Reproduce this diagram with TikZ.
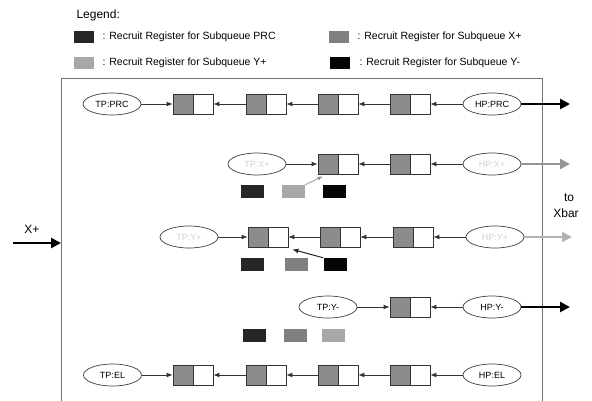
\documentclass[tikz,border=0pt]{standalone}
\usepackage{fontspec}
\setmainfont{Liberation Sans}
\usetikzlibrary{shapes.geometric,arrows.meta,calc}
\definecolor{regfill}{HTML}{8C8C8C}
\definecolor{cPRC}{HTML}{262626}
\definecolor{cXp}{HTML}{808080}
\definecolor{cYp}{HTML}{A8A8A8}
\definecolor{cYm}{HTML}{050505}
\begin{document}
\begin{tikzpicture}[x=1pt,y=-1pt,
  every node/.style={font=\fontsize{9}{11}\selectfont},
  regbox/.style={draw=black!80, line width=0.8pt, minimum width=40pt, minimum height=20pt, inner sep=0pt,
    path picture={\fill[regfill] (path picture bounding box.south west) rectangle (path picture bounding box.north);
      \draw[black!80, line width=0.8pt] (path picture bounding box.south) -- (path picture bounding box.north);}},
  ell/.style={ellipse, draw=black!75, line width=0.7pt, minimum width=58pt, minimum height=22pt, inner sep=0pt},
  faint/.style={text=black!18},
  lnk/.style={draw=black!80, line width=0.9pt, -{Latex[length=6pt,width=5pt]}},
  outarrow/.style={line width=2.8pt, -{Triangle[length=10pt,width=10pt]}},
  sq/.style={minimum width=23pt, minimum height=13pt, inner sep=0pt},
  lsq/.style={minimum width=20pt, minimum height=12pt, inner sep=0pt},
  legtext/.style={anchor=west, font=\fontsize{10.5}{12}\selectfont},
  big/.style={font=\fontsize{12}{14}\selectfont},
]
\useasboundingbox (0,0) rectangle (592,400);
\clip (0,0) rectangle (592,400);
\fill[white] (0,0) rectangle (592,400);

% Legend
\node[big, anchor=west] (leg) at (73,15) {Legend:};
\node[lsq, fill=cPRC] (l1) at (84,37) {};
\node[legtext] (t1) at (99,37) {: Recruit Register for Subqueue PRC};
\node[lsq, fill=cYp] (l2) at (84,63) {};
\node[legtext] (t2) at (99,63) {: Recruit Register for Subqueue Y+};
\node[lsq, fill=cXp] (l3) at (339,37) {};
\node[legtext] (t3) at (354,37) {: Recruit Register for Subqueue X+};
\node[lsq, fill=cYm] (l4) at (340,63) {};
\node[legtext] (t4) at (356,63) {: Recruit Register for Subqueue Y-};

% Outer box
\draw[black!55, line width=0.8pt] (61,78) rectangle (542,430);

% Row PRC
\node[ell] (tpprc) at (112,104) {TP:PRC};
\node[regbox] (p1) at (193,104) {};
\node[regbox] (p2) at (266,104) {};
\node[regbox] (p3) at (338,104) {};
\node[regbox] (p4) at (410,104) {};
\node[ell] (hpprc) at (492,104) {HP:PRC};
\draw[lnk] (tpprc) -- (p1);
\draw[lnk] (p2) -- (p1);
\draw[lnk] (p3) -- (p2);
\draw[lnk] (p4) -- (p3);
\draw[lnk] (hpprc) -- (p4);
\coordinate (oprc) at (570,104);
\draw[outarrow, black] (hpprc) -- (oprc);

% Row X+
\node[ell, faint] (tpxp) at (257,164) {TP:X+};
\node[regbox] (x1) at (338,164) {};
\node[regbox] (x2) at (410,164) {};
\node[ell, faint] (hpxp) at (492,164) {HP:X+};
\draw[lnk] (tpxp) -- (x1);
\draw[lnk] (x2) -- (x1);
\draw[lnk] (hpxp) -- (x2);
\coordinate (oxp) at (570,164);
\draw[outarrow, black!42, line width=2.2pt] (hpxp) -- (oxp);
\node[sq, fill=cPRC] (xs1) at (252.5,191.5) {};
\node[sq, fill=cYp] (xs2) at (293.5,191.5) {};
\node[sq, fill=cYm] (xs3) at (334.5,191.5) {};
\draw[black!45, line width=0.7pt, -{Latex[length=5pt,width=4pt]}] (xs2.north east) -- ([shift={(5,2)}]x1.south west);

% to Xbar
\node[big] (to) at (569,198) {to};
\node[big] (xbar) at (566,213) {Xbar};

% Row Y+
\node[ell, faint] (tpyp) at (189,237) {TP:Y+};
\node[regbox] (y1) at (268,237) {};
\node[regbox] (y2) at (340,237) {};
\node[regbox] (y3) at (413,237) {};
\node[ell, faint] (hpyp) at (495,237) {HP:Y+};
\draw[lnk] (tpyp) -- (y1);
\draw[lnk] (y2) -- (y1);
\draw[lnk] (y3) -- (y2);
\draw[lnk] (hpyp) -- (y3);
\coordinate (oyp) at (572,237);
\draw[outarrow, black!30, line width=2.2pt] (hpyp) -- (oyp);
\node[sq, fill=cPRC] (ys1) at (252.5,264.5) {};
\node[sq, fill=cXp] (ys2) at (296,264.5) {};
\node[sq, fill=cYm] (ys3) at (335,264.5) {};
\draw[black!85, line width=1pt, -{Latex[length=6pt,width=5pt]}] (ys3.north west) -- ([shift={(4,2)}]y1.south east);

% X+ input
\coordinate (xin0) at (13,243);
\coordinate (xin1) at (61,243);
\node[big] (xplab) at (32,229) {X+};
\draw[outarrow, black] (xin0) -- (xin1);

% Row Y-
\node[ell] (tpym) at (328,307) {TP:Y-};
\node[regbox] (m1) at (410,307) {};
\node[ell] (hpym) at (492,307) {HP:Y-};
\draw[lnk] (tpym) -- (m1);
\draw[lnk] (hpym) -- (m1);
\coordinate (oym) at (570,307);
\draw[outarrow, black] (hpym) -- (oym);
\node[sq, fill=cPRC] (ms1) at (254.5,335.5) {};
\node[sq, fill=cXp] (ms2) at (295,335.5) {};
\node[sq, fill=cYp] (ms3) at (333.5,335.5) {};

% Row EL
\node[ell] (tpel) at (112.5,375) {TP:EL};
\node[regbox] (e1) at (193,375) {};
\node[regbox] (e2) at (266,375) {};
\node[regbox] (e3) at (338,375) {};
\node[regbox] (e4) at (410,375) {};
\node[ell] (hpel) at (492,375) {HP:EL};
\draw[lnk] (tpel) -- (e1);
\draw[lnk] (e2) -- (e1);
\draw[lnk] (e3) -- (e2);
\draw[lnk] (e4) -- (e3);
\draw[lnk] (hpel) -- (e4);
\end{tikzpicture}
\end{document}
